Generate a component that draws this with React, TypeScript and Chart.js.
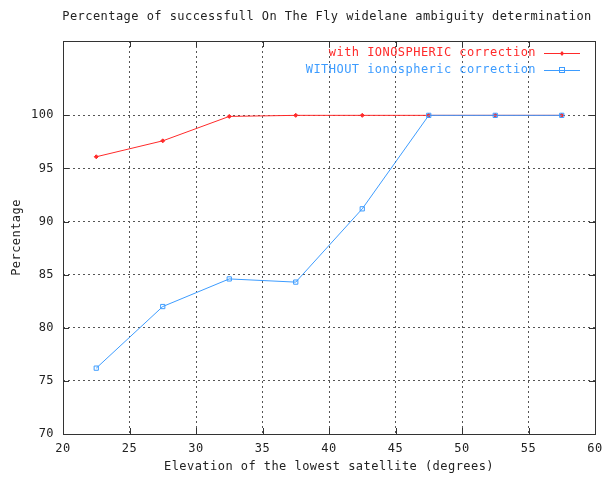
import React, { useEffect, useRef } from "react";
import { Chart, registerables } from "chart.js";
Chart.register(...registerables);

const elevations = [22.5, 27.5, 32.5, 37.5, 42.5, 47.5, 52.5, 57.5];
const withIono = [96.1, 97.6, 99.9, 100, 100, 100, 100, 100];
const withoutIono = [76.2, 82.0, 84.6, 84.3, 91.2, 100, 100, 100];
const xTicks = [20, 25, 30, 35, 40, 45, 50, 55, 60];
const yTicks = [70, 75, 80, 85, 90, 95, 100];
const seriesLabels = ["with IONOSPHERIC correction", "WITHOUT ionospheric correction"];
const chartTitle = "Percentage of successfull On The Fly widelane ambiguity determination";
const xTitle = "Elevation of the lowest satellite (degrees)";
const yTitle = "Percentage";

const RED = "#ff2a2a";
const BLUE = "#3d9cff";
const FONT = "12px 'DejaVu Sans Mono'";
const TEXT = "#222";

const decor = {
  id: "decor",
  beforeDraw(chart: any) {
    const ctx = chart.ctx;
    ctx.letterSpacing = "0.45px";
  },
  afterDraw(chart: any) {
    const ctx = chart.ctx;
    const a = chart.chartArea;
    const xs = chart.scales.x;
    const ys = chart.scales.y;
    ctx.save();
    ctx.letterSpacing = "0.45px";
    // box
    ctx.strokeStyle = "#333";
    ctx.lineWidth = 1;
    ctx.setLineDash([]);
    ctx.strokeRect(Math.round(a.left) + 0.5, Math.round(a.top) + 0.5, Math.round(a.right - a.left), Math.round(a.bottom - a.top));
    // tick marks
    ctx.beginPath();
    xTicks.forEach((v) => {
      const x = Math.round(xs.getPixelForValue(v)) + 0.5;
      ctx.moveTo(x, a.bottom);
      ctx.lineTo(x, a.bottom - 6);
      ctx.moveTo(x, a.top);
      ctx.lineTo(x, a.top + 6);
    });
    yTicks.forEach((v) => {
      const y = Math.round(ys.getPixelForValue(v)) + 0.5;
      ctx.moveTo(a.left, y);
      ctx.lineTo(a.left + 6, y);
      ctx.moveTo(a.right, y);
      ctx.lineTo(a.right - 6, y);
    });
    ctx.stroke();
    // titles
    ctx.font = FONT;
    ctx.fillStyle = TEXT;
    ctx.textAlign = "center";
    ctx.textBaseline = "middle";
    ctx.fillText(chartTitle, 327, 17);
    ctx.fillText(xTitle, (a.left + a.right) / 2, 467);
    ctx.save();
    ctx.translate(17, (a.top + a.bottom) / 2);
    ctx.rotate(-Math.PI / 2);
    ctx.fillText(yTitle, 0, 0);
    ctx.restore();
    // legend
    const colors = [RED, BLUE];
    const ly = [53, 70];
    ctx.textAlign = "right";
    seriesLabels.forEach((lab, i) => {
      ctx.fillStyle = colors[i];
      ctx.fillText(lab, 536, ly[i]);
      ctx.strokeStyle = colors[i];
      ctx.lineWidth = 1;
      ctx.beginPath();
      ctx.moveTo(544, ly[i] + 0.5);
      ctx.lineTo(580, ly[i] + 0.5);
      ctx.stroke();
      if (i === 0) {
        ctx.fillStyle = RED;
        ctx.beginPath();
        ctx.moveTo(562, ly[i] - 2);
        ctx.lineTo(564, ly[i] + 0.5);
        ctx.lineTo(562, ly[i] + 3);
        ctx.lineTo(560, ly[i] + 0.5);
        ctx.closePath();
        ctx.fill();
      } else {
        ctx.strokeRect(559.5, ly[i] - 2.5, 5, 5);
      }
    });
    ctx.restore();
  },
};

export default function App() {
  const ref = useRef<HTMLCanvasElement>(null);
  useEffect(() => {
    const chart = new Chart(ref.current as HTMLCanvasElement, {
      type: "line",
      data: {
        datasets: [
          {
            label: seriesLabels[1],
            data: elevations.map((x, i) => ({ x, y: withoutIono[i] })),
            borderColor: BLUE,
            backgroundColor: "rgba(255,255,255,0)",
            borderWidth: 1,
            pointStyle: "rect",
            pointRadius: 3,
            pointBorderWidth: 1,
            pointBorderColor: BLUE,
            pointBackgroundColor: "rgba(255,255,255,0)",
            tension: 0,
          },
          {
            label: seriesLabels[0],
            data: elevations.map((x, i) => ({ x, y: withIono[i] })),
            borderColor: RED,
            backgroundColor: RED,
            borderWidth: 1,
            pointStyle: "rectRot",
            pointRadius: 2,
            pointBorderWidth: 1,
            pointBorderColor: RED,
            pointBackgroundColor: RED,
            tension: 0,
          },
        ],
      },
      options: {
        responsive: false,
        animation: false,
        layout: { autoPadding: false, padding: { top: 41, right: 8, left: 0, bottom: 0 } },
        plugins: { legend: { display: false }, title: { display: false }, tooltip: { enabled: false } },
        scales: {
          x: {
            type: "linear",
            min: 20,
            max: 60,
            afterBuildTicks: (s: any) => { s.ticks = xTicks.map((v) => ({ value: v })); },
            afterFit: (s: any) => { s.height = 47; s.paddingLeft = 0; s.paddingRight = 0; },
            grid: { color: "#555", lineWidth: 1, drawTicks: false },
            border: { display: false, dash: [2, 3] },
            ticks: { font: { family: "'DejaVu Sans Mono'", size: 12 }, color: TEXT, padding: 8, maxRotation: 0 },
          },
          y: {
            type: "linear",
            min: 70,
            max: 107,
            afterBuildTicks: (s: any) => { s.ticks = yTicks.map((v) => ({ value: v })); },
            afterFit: (s: any) => { s.width = 63; s.paddingTop = 0; s.paddingBottom = 0; },
            grid: { color: "#555", lineWidth: 1, drawTicks: false },
            border: { display: false, dash: [2, 3] },
            ticks: { font: { family: "'DejaVu Sans Mono'", size: 12 }, color: TEXT, padding: 9 },
          },
        },
      },
      plugins: [decor],
    } as any);
    return () => chart.destroy();
  }, []);
  return (
    <div style={{ position: "absolute", left: 0, top: 0, width: 603, height: 481, background: "#fff" }}>
      <canvas ref={ref} width={603} height={481} />
    </div>
  );
}
